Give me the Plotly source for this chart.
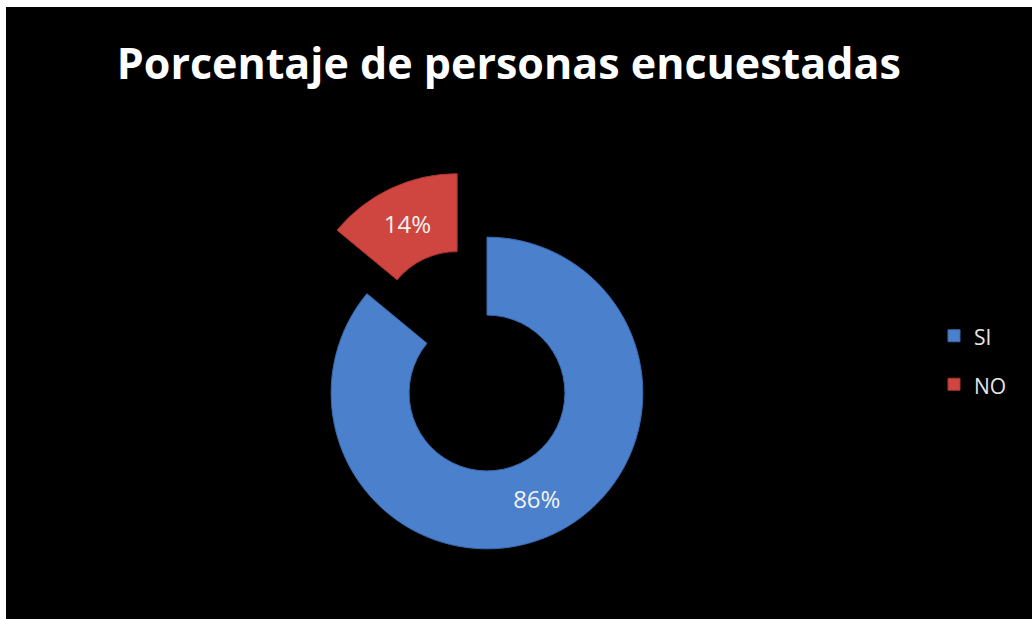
import plotly.graph_objects as go

# Survey answers
labels = ["SI", "NO"]
values = [86, 14]
colors = ["#4A80CC", "#CF453F"]
edge_colors = ["#3A6AB0", "#A8352F"]
pulls = [0, 0.45]

W, H = 1032, 619

# Legend entries are drawn at a smaller size than the legend font so that
# the rows get the wider spacing of the larger line height.
legend_text = [
    f"<span style='font-size:21px;baseline-shift:4px'>{lab}</span>" for lab in labels
]

fig = go.Figure(
    go.Pie(
        labels=legend_text,
        values=values,
        hole=0.5,
        sort=False,
        direction="clockwise",
        rotation=0,
        pull=pulls,
        marker=dict(colors=colors, line=dict(color=edge_colors, width=1)),
        textinfo="percent",
        textposition="inside",
        insidetextorientation="horizontal",
        textfont=dict(family="Open Sans, sans-serif", size=24, color="#F2F2F2"),
        domain=dict(x=[0.2519, 0.6919], y=[0.0, 0.7302]),
        hovertemplate="%{label}: %{percent}<extra></extra>",
    )
)

fig.update_layout(
    width=W,
    height=H,
    margin=dict(l=0, r=0, t=0, b=0),
    paper_bgcolor="white",
    title=dict(
        text="<b>Porcentaje de personas encuestadas</b>",
        x=0.493,
        xanchor="center",
        y=1 - 64 / H,
        yanchor="middle",
        font=dict(family="Open Sans, sans-serif", size=43, color="white"),
    ),
    legend=dict(
        x=934 / W,
        xanchor="left",
        y=1 - 360 / H,
        yanchor="middle",
        font=dict(family="Open Sans, sans-serif", size=35, color="#E6E6E6"),
        bgcolor="rgba(0,0,0,0)",
    ),
    shapes=[
        dict(
            type="rect",
            xref="paper",
            yref="paper",
            x0=6 / W,
            x1=1,
            y0=0,
            y1=1 - 7 / H,
            fillcolor="black",
            line=dict(width=0),
            layer="below",
        )
    ],
)

fig.write_html("out.html")
